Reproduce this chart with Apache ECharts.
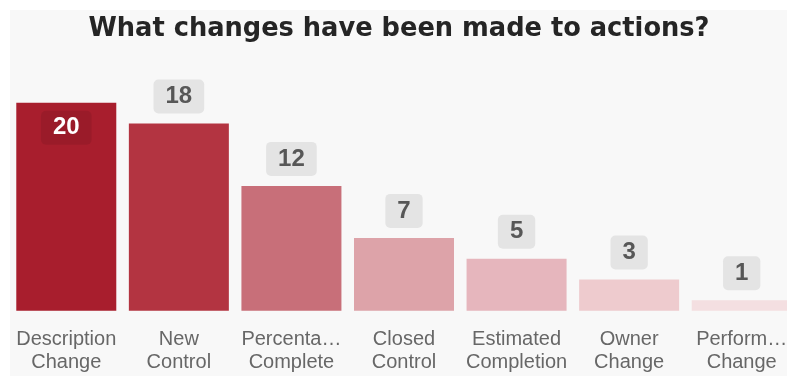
<!DOCTYPE html>
<html>
<head>
<meta charset="utf-8">
<script src="https://cdn.jsdelivr.net/npm/echarts@6/dist/echarts.min.js"></script>
<style>
  html, body { margin: 0; padding: 0; background: #ffffff; overflow: hidden; width: 787px; height: 376px; }
  #panel { position: absolute; left: 10px; top: 10px; width: 777px; height: 366px; background: #f8f8f8; }
  #chart { position: absolute; left: 0; top: 0; width: 798px; height: 376px; }
</style>
</head>
<body>
<div id="panel"></div>
<div id="chart"></div>
<script>
// Action change types and how many actions had each change
const categories = [
  'Description Change',
  'New Control',
  'Percentage Complete',
  'Closed Control',
  'Estimated Completion',
  'Owner Change',
  'Performance Change'
];
const counts = [20, 18, 12, 7, 5, 3, 1];
const barColors = ['#a81e2d', '#b33441', '#c86f79', '#dda3a9', '#e6b6bd', '#eecbce', '#f4dfe1'];

const axisFont = '20px "Liberation Sans", Arial, sans-serif';
const labelMaxWidth = 102;

const measureCtx = document.createElement('canvas').getContext('2d');
measureCtx.font = axisFont;

// clip a single word to the available width, ending it with an ellipsis
function clipWord(word) {
  if (measureCtx.measureText(word).width <= labelMaxWidth) return word;
  let s = word;
  while (s.length > 1 && measureCtx.measureText(s + '…').width > labelMaxWidth) {
    s = s.slice(0, -1);
  }
  return s + '…';
}

// one word per line
function wrapLabel(v) {
  return v.split(' ').map(clipWord).join('\n');
}

const chart = echarts.init(document.getElementById('chart'), null, { renderer: 'canvas' });

const labelBox = {
  show: true,
  position: 'top',
  distance: 10,
  fontFamily: '"Liberation Sans", Arial, sans-serif',
  fontWeight: 'bold',
  fontSize: 24,
  lineHeight: 24,
  color: '#575757',
  backgroundColor: '#e4e4e4',
  borderRadius: 5,
  padding: [5, 12, 5, 12]
};

const barData = counts.map((v, i) => {
  const item = { value: v, itemStyle: { color: barColors[i] } };
  if (v === Math.max(...counts)) {
    // the tallest bar carries its label inside
    item.label = {
      position: 'insideTop',
      distance: 8,
      color: '#ffffff',
      backgroundColor: 'rgba(0,0,0,0.08)'
    };
  }
  return item;
});

chart.setOption({
  animation: false,
  title: {
    text: 'What changes have been made to actions?',
    left: 394,
    top: 11,
    textAlign: 'center',
    textStyle: {
      fontFamily: '"DejaVu Sans", sans-serif',
      fontWeight: 'bold',
      fontSize: 25.7,
      color: '#252525'
    }
  },
  grid: { left: 10, top: 102.7, right: 0, height: 208, containLabel: false },
  xAxis: {
    type: 'category',
    data: categories,
    axisLine: { show: false },
    axisTick: { show: false },
    axisLabel: {
      interval: 0,
      margin: 17,
      fontFamily: '"Liberation Sans", Arial, sans-serif',
      fontSize: 20,
      lineHeight: 23,
      color: '#676767',
      formatter: wrapLabel
    }
  },
  yAxis: {
    type: 'value',
    min: 0,
    max: 20,
    show: false
  },
  series: [{
    type: 'bar',
    data: barData,
    barWidth: 100,
    label: labelBox
  }]
});
</script>
</body>
</html>
